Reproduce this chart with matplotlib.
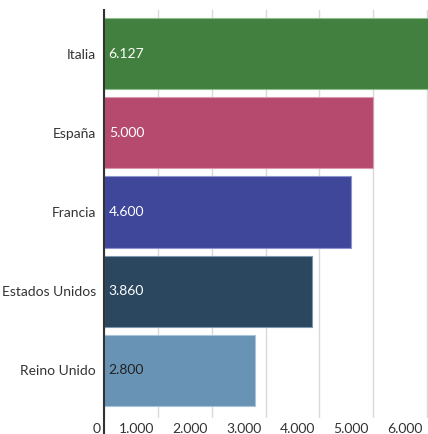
import matplotlib
matplotlib.use("Agg")
import matplotlib.pyplot as plt
import matplotlib.transforms as mtransforms

plt.rcParams['font.family'] = ['Lato', 'DejaVu Sans']

countries = ["Italia", "España", "Francia", "Estados Unidos", "Reino Unido"]
values = [6127, 5000, 4600, 3860, 2800]
bar_colors = ["#42803f", "#b54a6e", "#3f479b", "#2b475f", "#6893b5"]
edge_colors = ["#8fbf8d", "#d99ab0", "#8f94cf", "#7f97ad", "#a9c3d8"]
label_colors = ["white", "white", "white", "white", "#222222"]
xticks = [0, 1000, 2000, 3000, 4000, 5000, 6000]
xtick_labels = ["0", "1.000", "2.000", "3.000", "4.000", "5.000", "6.000"]

fig = plt.figure(figsize=(4.28, 4.34), dpi=100)
ax = fig.add_axes([0.244, 0.037, 0.756, 0.94])

ypos = list(range(len(countries)))
ax.barh(ypos, values, height=0.9, color=bar_colors, edgecolor=edge_colors,
        linewidth=0.8, zorder=2)

for y, v, c in zip(ypos, values, label_colors):
    ax.text(80, y, f"{v:,}".replace(",", "."), color=c, va="center",
            ha="left", fontsize=10, zorder=3)

ax.set_xlim(0, 6025)
ax.set_ylim(4.6, -0.55)
ax.set_yticks(ypos)
ax.set_yticklabels(countries, fontsize=10, color="#333333")
ax.set_xticks(xticks)
ax.set_xticklabels(xtick_labels, fontsize=10, color="#333333")
ax.tick_params(axis="both", length=0, pad=6)
ax.tick_params(axis="x", pad=4)
offset = mtransforms.ScaledTranslation(-4 / 100, 0, fig.dpi_scale_trans)
for lbl in ax.get_xticklabels():
    lbl.set_horizontalalignment("right")
    lbl.set_transform(lbl.get_transform() + offset)

ax.grid(axis="x", color="#d9d9d9", linewidth=1, zorder=0)
ax.grid(axis="y", visible=False)
for s in ["top", "right", "bottom", "left"]:
    ax.spines[s].set_visible(False)
ax.plot([0, 0], [1, -0.05], transform=ax.transAxes, color="#333333",
        linewidth=1.5, clip_on=False, zorder=4)

fig.savefig("out.png", dpi=100)
